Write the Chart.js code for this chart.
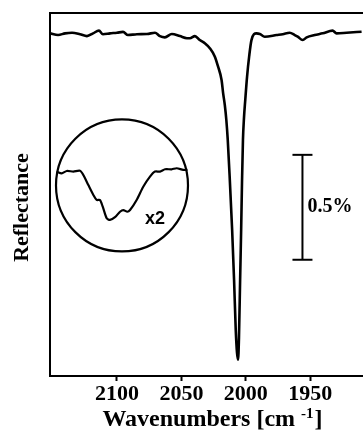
<!DOCTYPE html>
<html>
<head>
<meta charset="utf-8">
<script src="https://cdn.jsdelivr.net/npm/chart.js@4.4.1/dist/chart.umd.min.js"></script>
<style>
  html, body { margin: 0; padding: 0; background: #fff; }
</style>
</head>
<body>
<canvas id="spectrum" width="363" height="434"></canvas>
<script>
(function () {
  "use strict";

  // main spectrum: wavenumber (cm-1) vs reflectance change (%)
  var wavenumbers = [
    2152.0, 2145.7, 2140.3, 2134.9, 2128.7, 2123.3, 2118.6, 2114.0, 2110.9, 2105.4,
    2100.0, 2095.3, 2091.5, 2084.5, 2076.7, 2070.5, 2066.7, 2062.8, 2057.4, 2051.2,
    2045.7, 2043.4, 2039.5, 2035.7, 2031.8, 2027.9, 2024.0, 2021.5, 2018.8, 2017.6,
    2016.3, 2015.1, 2014.0, 2012.4, 2010.6, 2009.1, 2007.8, 2006.8, 2006.0, 2005.3,
    2004.4, 2003.6, 2002.9, 2002.2, 2001.4, 2000.4, 1999.0, 1997.4, 1995.6, 1991.7,
    1989.1, 1985.3, 1976.0, 1971.3, 1965.9, 1962.0, 1959.7, 1955.8, 1952.7, 1946.5,
    1940.3, 1932.6, 1929.5, 1921.7, 1910.1
  ];
  var reflectance = [
    0.003, -0.005, 0.003, 0.006, -0.001, -0.010, 0.003, 0.016, -0.001, 0.003,
    0.006, 0.010, -0.005, -0.001, 0.000, 0.006, -0.010, -0.016, 0.000, -0.010,
    -0.020, -0.020, -0.010, -0.029, -0.044, -0.068, -0.108, -0.156, -0.219, -0.282,
    -0.338, -0.410, -0.505, -0.695, -0.933, -1.171, -1.410, -1.520, -1.552, -1.450,
    -1.171, -0.933, -0.695, -0.505, -0.400, -0.314, -0.203, -0.108, -0.029, 0.003,
    0.000, -0.013, -0.005, -0.001, 0.006, -0.005, -0.013, -0.029, -0.016, -0.005,
    0.003, 0.016, 0.003, 0.006, 0.011
  ];
  var xTicks = [2100, 2050, 2000, 1950];

  // inset band (x2): position across the inset (0-100) vs reflectance change (%)
  var insetPos = [
    0.5, 4.3, 8.1, 13.1, 18.2, 20.7, 24.5, 28.3, 30.8, 33.3,
    35.4, 38.4, 40.9, 44.7, 48.5, 51.0, 54.0, 56.1, 61.1, 66.1,
    71.2, 75.0, 78.8, 82.6, 87.7, 91.4, 96.4, 99.6
  ];
  var insetRefl = [
    -0.003, -0.011, 0.000, -0.003, 0.001, -0.019, -0.067, -0.114, -0.138, -0.138,
    -0.170, -0.225, -0.233, -0.220, -0.194, -0.186, -0.194, -0.186, -0.138, -0.075,
    -0.027, -0.003, -0.003, 0.008, 0.008, 0.013, 0.005, 0.005
  ];
  var insetCircle = { pos: 50, refl: -0.069 };
  var insetLabel = { text: "x2", pos: 75, refl: -0.229 };

  // 0.5% scale bar
  var barWavenumber = 1956;
  var barRefl = [-0.576, -1.076];
  var barLabel = "0.5%";

  var serif = "'Liberation Serif', 'Times New Roman', serif";

  function zip(xs, ys) {
    return xs.map(function (x, i) {
      return { x: x, y: ys[i] };
    });
  }

  var textPlugin = {
    id: "spectrumText",
    afterDraw: function (chart) {
      var ctx = chart.ctx;
      var sx = chart.scales.x, sy = chart.scales.y;
      var ix = chart.scales.xInset, iy = chart.scales.yInset;
      ctx.save();
      ctx.fillStyle = "#000";

      // y title
      ctx.save();
      ctx.translate(28, 207.5);
      ctx.rotate(-Math.PI / 2);
      ctx.font = "bold 22px " + serif;
      ctx.textAlign = "center";
      ctx.textBaseline = "alphabetic";
      ctx.fillText("Reflectance", 0, 0);
      ctx.restore();

      // x title with superscript
      var main = "Wavenumbers [cm ";
      var sup = "-1";
      var tail = "]";
      ctx.textBaseline = "alphabetic";
      ctx.textAlign = "left";
      ctx.font = "bold 24px " + serif;
      var wMain = ctx.measureText(main).width;
      var wTail = ctx.measureText(tail).width;
      ctx.font = "bold 15px " + serif;
      var wSup = ctx.measureText(sup).width;
      var x0 = 212 - (wMain + wSup + wTail) / 2;
      ctx.font = "bold 24px " + serif;
      ctx.fillText(main, x0, 426);
      ctx.font = "bold 15px " + serif;
      ctx.fillText(sup, x0 + wMain, 418);
      ctx.font = "bold 24px " + serif;
      ctx.fillText(tail, x0 + wMain + wSup + 1, 426);

      // scale bar label
      var barMid = (barRefl[0] + barRefl[1]) / 2;
      ctx.font = "bold 20px " + serif;
      ctx.textBaseline = "middle";
      ctx.fillText(barLabel, sx.getPixelForValue(barWavenumber) + 5, sy.getPixelForValue(barMid));

      // inset magnification label
      ctx.font = "bold 18px 'Liberation Sans', Arial, sans-serif";
      ctx.textAlign = "center";
      ctx.fillText(insetLabel.text, ix.getPixelForValue(insetLabel.pos), iy.getPixelForValue(insetLabel.refl));
      ctx.restore();
    }
  };

  new Chart(document.getElementById("spectrum"), {
    type: "line",
    data: {
      datasets: [
        {
          data: zip(wavenumbers, reflectance),
          xAxisID: "x",
          yAxisID: "y",
          borderColor: "#000",
          borderWidth: 2.6,
          pointRadius: 0,
          cubicInterpolationMode: "monotone"
        },
        {
          data: barRefl.map(function (r) {
            return { x: barWavenumber, y: r };
          }),
          xAxisID: "x",
          yAxisID: "y",
          borderColor: "#000",
          borderWidth: 2,
          pointStyle: "line",
          pointRadius: 10,
          pointBorderWidth: 2,
          pointBorderColor: "#000"
        },
        {
          data: zip(insetPos, insetRefl),
          xAxisID: "xInset",
          yAxisID: "yInset",
          borderColor: "#000",
          borderWidth: 2.2,
          pointRadius: 0,
          tension: 0.25
        },
        {
          data: [{ x: insetCircle.pos, y: insetCircle.refl }],
          xAxisID: "xInset",
          yAxisID: "yInset",
          showLine: false,
          pointStyle: "circle",
          pointRadius: 66,
          pointBorderWidth: 2.2,
          pointBorderColor: "#000",
          pointBackgroundColor: "transparent"
        }
      ]
    },
    options: {
      responsive: false,
      animation: false,
      events: [],
      layout: { padding: 0, autoPadding: false },
      plugins: {
        legend: { display: false },
        tooltip: { enabled: false }
      },
      scales: {
        x: {
          type: "linear",
          position: "bottom",
          reverse: true,
          min: 1909,
          max: 2152,
          afterBuildTicks: function (scale) {
            scale.ticks = xTicks.map(function (v) {
              return { value: v };
            });
          },
          afterFit: function (scale) {
            scale.height = 58;
          },
          ticks: {
            color: "#000",
            padding: 0,
            maxRotation: 0,
            font: { family: serif, size: 22, weight: "bold" },
            callback: function (value) {
              return String(value);
            }
          },
          grid: {
            display: true,
            drawOnChartArea: false,
            drawTicks: true,
            tickLength: 5,
            tickWidth: 2,
            tickColor: "#000"
          },
          border: { display: true, color: "#000", width: 2 }
        },
        xTop: {
          type: "linear",
          position: "top",
          display: true,
          min: 0,
          max: 1,
          afterFit: function (scale) {
            scale.height = 13;
          },
          ticks: { display: false },
          grid: { display: false },
          border: { display: true, color: "#000", width: 2 }
        },
        y: {
          type: "linear",
          position: "left",
          min: -1.63,
          max: 0.1,
          afterFit: function (scale) {
            scale.width = 50;
          },
          ticks: { display: false },
          grid: { display: false },
          border: { display: true, color: "#000", width: 2 }
        },
        xInset: {
          type: "linear",
          display: false,
          min: -4.55,
          max: 232.6
        },
        yInset: {
          type: "linear",
          display: false,
          min: -0.976,
          max: 0.752
        }
      }
    },
    plugins: [textPlugin]
  });
})();
</script>
</body>
</html>
